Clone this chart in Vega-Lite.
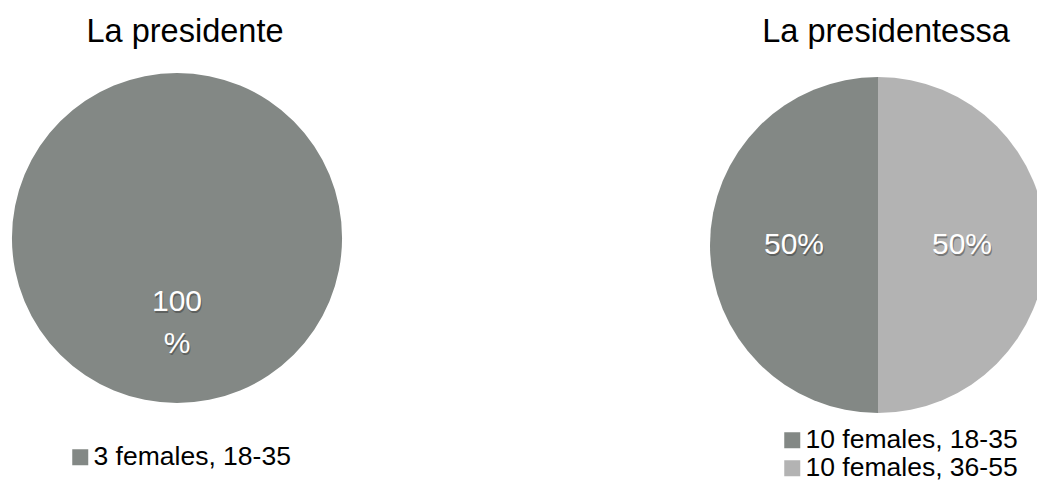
{
  "$schema": "https://vega.github.io/schema/vega-lite/v6.json",
  "padding": {"top": 15, "left": 0, "right": 0, "bottom": 0},
  "background": "white",
  "spacing": 356,
  "config": {
    "view": {"stroke": null},
    "font": "Liberation Sans",
    "title": {"fontSize": 32.5, "fontWeight": "normal", "color": "black", "anchor": "middle", "font": "Liberation Sans", "dx": 8},
    "legend": {
      "title": null,
      "symbolType": "square",
      "symbolSize": 256,
      "symbolStrokeWidth": 0,
      "labelFontSize": 26.5,
      "labelFont": "Liberation Sans",
      "labelColor": "black",
      "labelLimit": 500,
      "labelOffset": 0,
      "rowPadding": 1
    }
  },
  "resolve": {"scale": {"color": "independent", "theta": "independent"}},
  "hconcat": [
    {
      "width": 354,
      "height": 330,
      "title": {"text": "La presidente", "offset": 25},
      "data": {"values": [
        {"group": "3 females, 18-35", "count": 3, "label": "100\n%"}
      ]},
      "encoding": {
        "theta": {"field": "count", "type": "quantitative", "stack": true},
        "order": {"field": "group", "sort": "descending"}
      },
      "layer": [
        {
          "mark": {"type": "arc", "outerRadius": 165, "stroke": null},
          "encoding": {
            "color": {
              "field": "group", "type": "nominal",
              "scale": {"domain": ["3 females, 18-35"], "range": ["#838885"]},
              "legend": {"orient": "none", "legendX": 67, "legendY": 371}
            }
          }
        },
        {
          "mark": {"type": "text", "radius": 64, "fontSize": 30, "lineHeight": 42, "lineBreak": "\n", "dx": 1, "dy": 2, "opacity": 0.45},
          "encoding": {"text": {"field": "label"}, "detail": {"field": "group"}, "color": {"value": "#333333"}}
        },
        {
          "mark": {"type": "text", "radius": 64, "fontSize": 30, "lineHeight": 42, "lineBreak": "\n"},
          "encoding": {"text": {"field": "label"}, "detail": {"field": "group"}, "color": {"value": "white"}}
        }
      ]
    },
    {
      "width": 336,
      "height": 344,
      "title": {"text": "La presidentessa", "offset": 25},
      "data": {"values": [
        {"group": "10 females, 18-35", "count": 10, "label": "50%"},
        {"group": "10 females, 36-55", "count": 10, "label": "50%"}
      ]},
      "encoding": {
        "theta": {"field": "count", "type": "quantitative", "stack": true},
        "order": {"field": "group", "sort": "descending"}
      },
      "layer": [
        {
          "mark": {"type": "arc", "outerRadius": 168, "stroke": null},
          "encoding": {
            "color": {
              "field": "group", "type": "nominal",
              "scale": {"domain": ["10 females, 18-35", "10 females, 36-55"], "range": ["#838885", "#b3b3b3"]},
              "legend": {"orient": "none", "legendX": 69, "legendY": 354, "direction": "vertical"}
            }
          }
        },
        {
          "mark": {"type": "text", "radius": 84, "fontSize": 30, "dx": 1, "dy": 2, "opacity": 0.45},
          "encoding": {"text": {"field": "label"}, "detail": {"field": "group"}, "color": {"value": "#333333"}}
        },
        {
          "mark": {"type": "text", "radius": 84, "fontSize": 30},
          "encoding": {"text": {"field": "label"}, "detail": {"field": "group"}, "color": {"value": "white"}}
        }
      ]
    }
  ]
}
